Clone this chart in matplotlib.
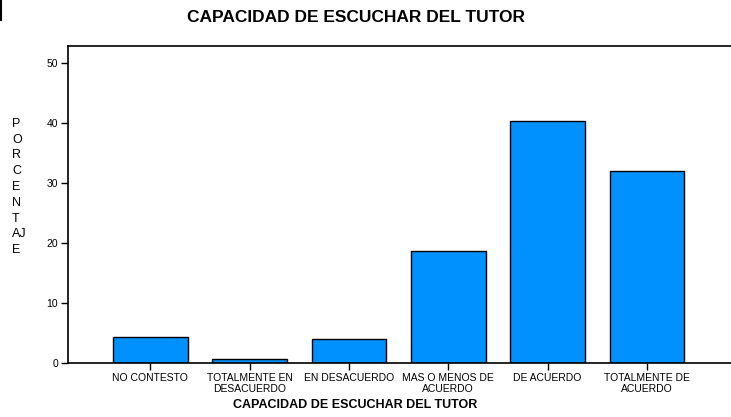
import matplotlib
matplotlib.use("Agg")
import matplotlib.pyplot as plt
from matplotlib.lines import Line2D

categories = ["NO CONTESTO", "TOTALMENTE EN\nDESACUERDO", "EN DESACUERDO",
              "MAS O MENOS DE\nACUERDO", "DE ACUERDO", "TOTALMENTE DE\nACUERDO"]
values = [4.3, 0.6, 4.0, 18.7, 40.3, 31.9]
yticks = [0, 10, 20, 30, 40, 50]

plt.rcParams['font.family'] = ['Liberation Sans', 'DejaVu Sans']

fig = plt.figure(figsize=(7.31, 4.17), dpi=100)
ax = fig.add_axes([68/731, 1 - 363/417, (731 - 68)/731 + 0.01, (363 - 46)/417])

x = list(range(len(categories)))
ax.bar(x, values, width=0.75, color='#0091FF', edgecolor='black', linewidth=1.0, zorder=2)
ax.set_xlim(-0.83, 5.82 + 0.1)
ax.set_ylim(0, 52.8)
ax.set_yticks(yticks)
ax.set_yticklabels([str(t) for t in yticks], fontsize=7.5)
ax.set_xticks(x)
ax.set_xticklabels(categories, fontsize=7.5, linespacing=1.1)
ax.tick_params(axis='both', direction='out', length=5, width=1, pad=2)
for s in ax.spines.values():
    s.set_linewidth(1.2)
ax.spines['right'].set_visible(False)

fig.text(355/731, 1 - 405/417, "CAPACIDAD DE ESCUCHAR DEL TUTOR",
         ha='center', va='center', fontsize=9, fontweight='bold')
fig.text(356/731, 1 - 18/417, "CAPACIDAD DE ESCUCHAR DEL TUTOR",
         ha='center', va='center', fontsize=12.5, fontweight='bold')
fig.text(12/731, 1 - 187/417, "P\nO\nR\nC\nE\nN\nT\nAJ\nE", ha='left', va='center',
         fontsize=9, linespacing=1.42)
fig.add_artist(Line2D([1/731, 1/731], [1, 1 - 20/417], color='black', linewidth=1.5,
                      transform=fig.transFigure))

fig.savefig("out.png", dpi=100)
